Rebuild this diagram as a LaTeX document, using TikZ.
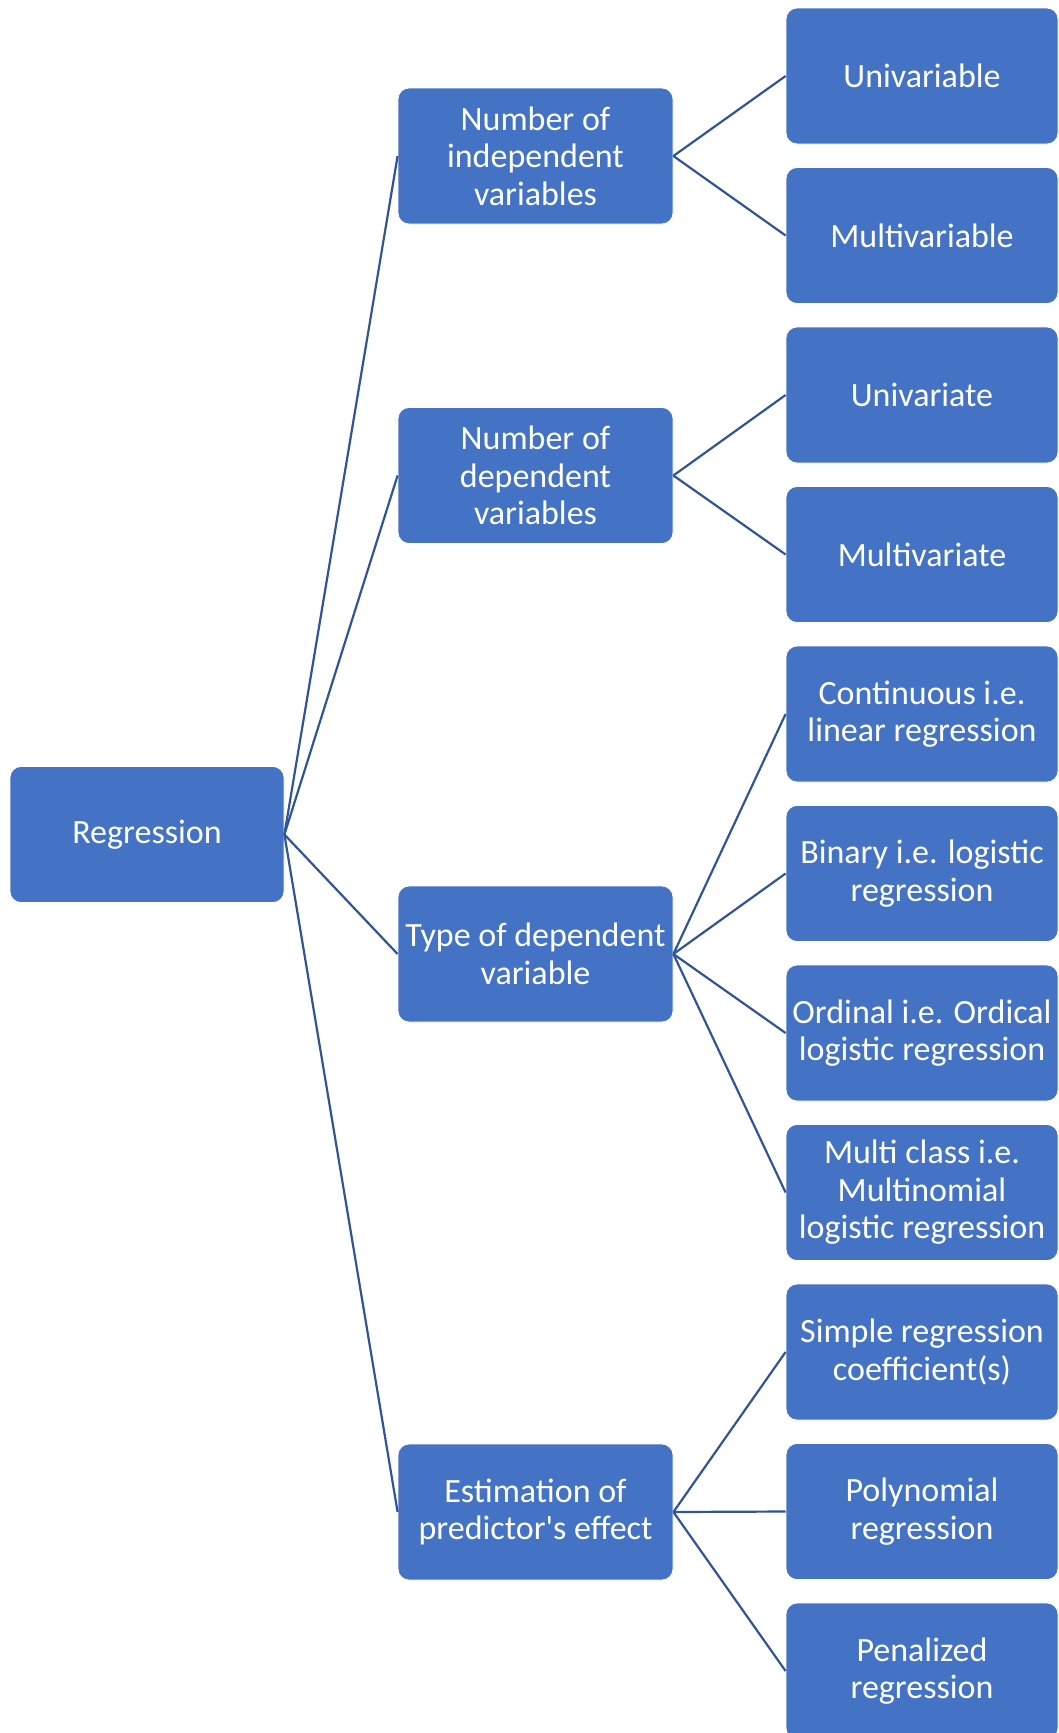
\documentclass[tikz,border=0pt]{standalone}
\usepackage{fontspec}
\setmainfont{Carlito}
\definecolor{boxblue}{HTML}{4472C4}
\definecolor{linkblue}{HTML}{2F5597}
\begin{document}
\begin{tikzpicture}[x=1pt,y=-1pt,
  box/.style={rectangle, rounded corners=11pt, fill=boxblue, draw=white, line width=0.8pt,
    text=white, align=center, inner sep=0pt, minimum height=136pt,
    font=\fontsize{34}{37.5}\selectfont},
  rootbox/.style={box, minimum width=274pt},
  midbox/.style={box, minimum width=275pt},
  leafbox/.style={box, minimum width=272pt},
  link/.style={draw=linkblue, line width=2.2pt}]
\useasboundingbox (0,0) rectangle (1059,1733);
\clip (0,0) rectangle (1059,1733);

% root
\node[rootbox] (root) at (147,834.5) {Regression};

% second level
\node[midbox] (m1) at (535.5,156)   {Number of\\independent\\variables};
\node[midbox] (m2) at (535.5,475.5) {Number of\\dependent\\variables};
\node[midbox] (m3) at (535.5,954)   {Type of dependent\\variable};
\node[midbox] (m4) at (535.5,1512)  {Estimation of\\predictor\textquotesingle s effect};

% leaves
\node[leafbox] (l1)  at (922,76)     {Univariable};
\node[leafbox] (l2)  at (922,235.5)  {Multivariable};
\node[leafbox] (l3)  at (922,395)    {Univariate};
\node[leafbox] (l4)  at (922,554.5)  {Multivariate};
\node[leafbox] (l5)  at (922,714)    {Continuous i.e.\\linear regression};
\node[leafbox] (l6)  at (922,873.5)  {Binary i.e. logistic\\regression};
\node[leafbox] (l7)  at (922,1033)   {Ordinal i.e. Ordical\\logistic regression};
\node[leafbox] (l8)  at (922,1192.5) {Multi class i.e.\\Multinomial\\logistic regression};
\node[leafbox] (l9)  at (922,1352)   {Simple regression\\coefficient(s)};
\node[leafbox] (l10) at (922,1511.5) {Polynomial\\regression};
\node[leafbox] (l11) at (922,1671)   {Penalized\\regression};

% connectors
\foreach \m in {m1,m2,m3,m4} \draw[link] (root.east) -- (\m.west);
\foreach \l in {l1,l2} \draw[link] (m1.east) -- (\l.west);
\foreach \l in {l3,l4} \draw[link] (m2.east) -- (\l.west);
\foreach \l in {l5,l6,l7,l8} \draw[link] (m3.east) -- (\l.west);
\foreach \l in {l9,l10,l11} \draw[link] (m4.east) -- (\l.west);
\end{tikzpicture}
\end{document}
